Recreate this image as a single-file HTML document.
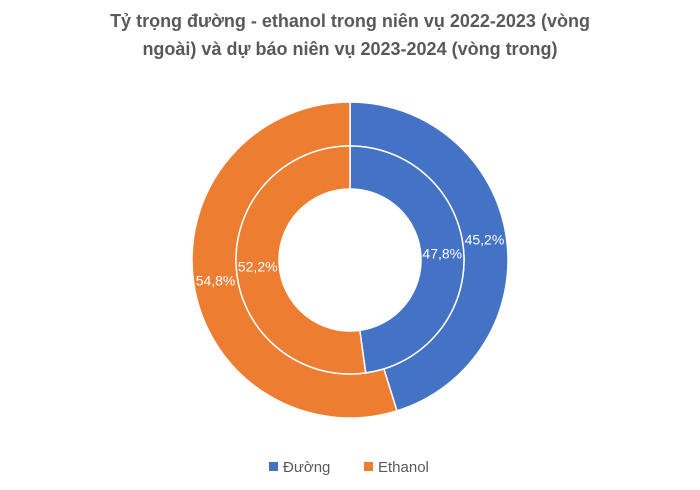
<!DOCTYPE html>
<html><head><meta charset="utf-8"><style>
body{margin:0;background:#fff;}
svg{display:block;font-family:"Liberation Sans",sans-serif;}
</style></head><body>
<svg width="700" height="490" viewBox="0 0 700 490">
<text x="350" y="27" text-anchor="middle" font-size="18" font-weight="bold" fill="#595959">Tỷ trọng đường - ethanol trong niên vụ 2022-2023 (vòng</text>
<text x="350" y="55" text-anchor="middle" font-size="18" font-weight="bold" fill="#595959">ngoài) và dự báo niên vụ 2023-2024 (vòng trong)</text>
<g id="rings"></g>
<g>
<rect x="269" y="462" width="9" height="9" fill="#4472C4"/>
<text x="283" y="472" font-size="15" fill="#595959">Đường</text>
<rect x="364" y="462" width="9" height="9" fill="#ED7D31"/>
<text x="378" y="472" font-size="15" fill="#595959">Ethanol</text>
</g>
</svg>
<script>
const categories=["Đường","Ethanol"];
const outerValues=[45.2,54.8];
const innerValues=[47.8,52.2];
const labelsOuter=["45,2%","54,8%"];
const labelsInner=["47,8%","52,2%"];
const colors=["#4472C4","#ED7D31"];
const cx=350,cy=260;
const g=document.getElementById('rings');
const NS="http://www.w3.org/2000/svg";
function pt(r,a){return [cx+r*Math.sin(a),cy-r*Math.cos(a)];}
function ring(vals,labels,r0,r1,name){
  const tot=vals.reduce((a,b)=>a+b,0);let a=0;
  vals.forEach((v,i)=>{
    const a2=a+v/tot*2*Math.PI;const large=(a2-a)>Math.PI?1:0;
    const p1=pt(r1,a),p2=pt(r1,a2),p3=pt(r0,a2),p4=pt(r0,a);
    const p=document.createElementNS(NS,'path');
    p.setAttribute('d',`M${p1}A${r1},${r1} 0 ${large} 1 ${p2}L${p3}A${r0},${r0} 0 ${large} 0 ${p4}Z`);
    p.setAttribute('fill',colors[i]);p.setAttribute('stroke','#fff');p.setAttribute('stroke-width','1.5');
    
    
    g.appendChild(p);
    const m=pt((r0+r1)/2,(a+a2)/2);
    const t=document.createElementNS(NS,'text');
    t.setAttribute('x',m[0]);t.setAttribute('y',m[1]+5);t.setAttribute('text-anchor','middle');
    t.setAttribute('font-size','14');t.setAttribute('fill','#fff');t.textContent=labels[i];
    
    
    g.appendChild(t);
    a=a2;
  });
}
ring(outerValues,labelsOuter,114,158,'outer');
ring(innerValues,labelsInner,71,114,'inner');
</script>
</body></html>
